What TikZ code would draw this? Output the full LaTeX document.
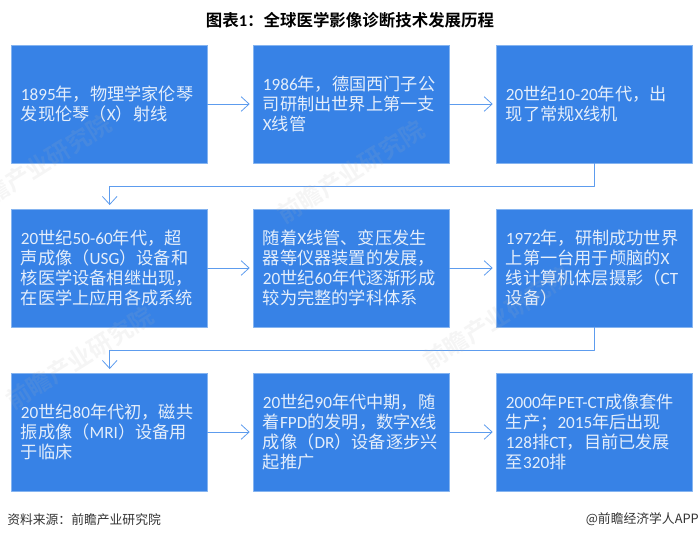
\documentclass[tikz,border=0pt]{standalone}
\usepackage{fontspec}
\setmainfont[BoldFont={Noto Sans CJK SC Bold}]{Noto Sans CJK SC}
\newfontfamily\latinfont{Carlito}
\newcommand{\la}[1]{{\latinfont #1}}
\usetikzlibrary{arrows.meta}
\definecolor{boxblue}{HTML}{3782E6}
\definecolor{edgeblue}{HTML}{85B4F0}
\definecolor{arrowblue}{HTML}{5D9CEE}
\definecolor{boxtext}{HTML}{E4EEFB}
\tikzset{
  stagebox/.style={draw=edgeblue,line width=0.6pt,fill=boxblue,text=boxtext,outer sep=0pt,
    minimum height=88.5pt,inner xsep=6.9pt,inner ysep=0pt,text width=133.2pt,align=left,
    font=\fontsize{12.9}{15}\selectfont},
  flowline/.style={draw=arrowblue,line width=0.75pt,-{Straight Barb[length=6pt,width=11pt,line width=0.6pt]},shorten >=3pt},
  watermark/.style={text=gray!60,text opacity=0.13,rotate=32,font=\bfseries\fontsize{18}{18}\selectfont},
  footnote/.style={text=black!80,inner sep=0pt,font=\fontsize{9.6}{11}\selectfont}
}
\begin{document}
\begin{tikzpicture}[x=0.75pt,y=-0.75pt,line cap=round,line join=round]
  \useasboundingbox (0,0) rectangle (700,540);
  \node[font=\bfseries\fontsize{12.35}{14}\selectfont] (title) at (350,20.5) {图表\la{1}：全球医学影像诊断技术发展历程};
  \node[stagebox] (a1) at (109.7,104) {\la{1895}年，物理学家伦琴\\发现伦琴（\la{X}）射线};
  \node[stagebox] (a2) at (351.7,104) {\la{1986}年，德国西门子公\\司研制出世界上第一支\\\la{X}线管};
  \node[stagebox] (a3) at (594.7,104) {\la{20}世纪\la{10-20}年代，出\\现了常规\la{X}线机};
  \node[stagebox] (b1) at (109.7,268) {\la{20}世纪\la{50-60}年代，超\\声成像（\la{USG}）设备和\\核医学设备相继出现，\\在医学上应用各成系统};
  \node[stagebox] (b2) at (351.7,268) {随着\la{X}线管、变压发生\\器等仪器装置的发展，\\\la{20}世纪\la{60}年代逐渐形成\\较为完整的学科体系};
  \node[stagebox] (b3) at (594.7,268) {\la{1972}年，研制成功世界\\上第一台用于颅脑的\la{X}\\线计算机体层摄影（\la{CT}\\设备）};
  \node[stagebox] (c1) at (109.7,432) {\la{20}世纪\la{80}年代初，磁共\\振成像（\la{MRI}）设备用\\于临床};
  \node[stagebox] (c2) at (351.7,432) {\la{20}世纪\la{90}年代中期，随\\着\la{FPD}的发明，数字\la{X}线\\成像（\la{DR}）设备逐步兴\\起推广};
  \node[stagebox] (c3) at (594.7,432) {\la{2000}年\la{PET-CT}成像套件\\生产；\la{2015}年后出现\\\la{128}排\la{CT}，目前已发展\\至\la{320}排};
  \draw[flowline] (a1) -- (a2);
  \draw[flowline] (a2) -- (a3);
  \draw[flowline] (a3.south) -- ++(0,23) -| (b1.north);
  \draw[flowline] (b1) -- (b2);
  \draw[flowline] (b2) -- (b3);
  \draw[flowline] (b3.south) -- ++(0,23.5) -| (c1.north);
  \draw[flowline] (c1) -- (c2);
  \draw[flowline] (c2) -- (c3);
  \node[watermark] (wm1) at (38,166) {前瞻产业研究院};
  \node[watermark] (wm2) at (351,172) {前瞻产业研究院};
  \node[watermark] (wm3) at (80,358) {前瞻产业研究院};
  \node[watermark] (wm4) at (497,318) {前瞻产业研究院};
  \node[footnote,anchor=west] (source) at (7,519.5) {资料来源：前瞻产业研究院};
  \node[footnote,anchor=east] (app) at (699,519.5) {@前瞻经济学人APP};
\end{tikzpicture}
\end{document}
